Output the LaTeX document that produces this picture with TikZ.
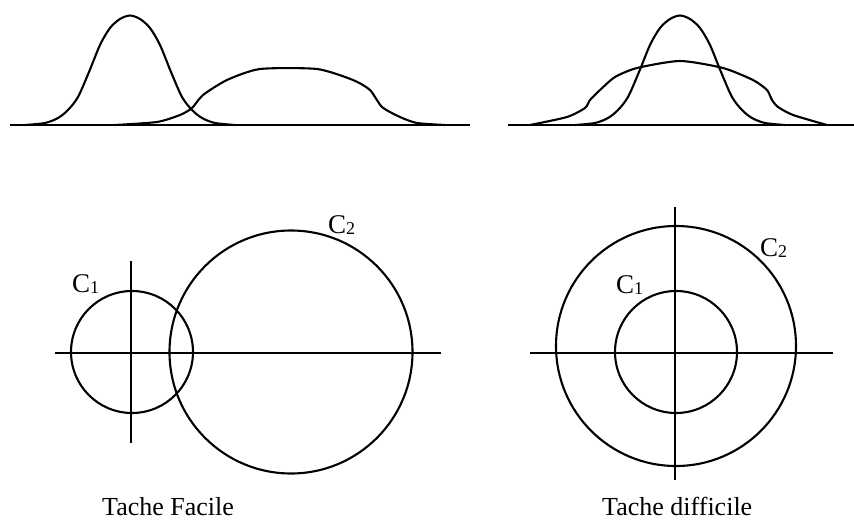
\documentclass[tikz,border=0pt]{standalone}
\usepackage{fontspec}
\setmainfont{Liberation Serif}
\newcommand\sbs[1]{{\fontsize{18}{18}\selectfont\raisebox{-1pt}{#1}}}
\begin{document}
\begin{tikzpicture}[x=1pt,y=-1pt,line join=round,line cap=round,
  curve/.style={line width=2.1pt},
  axisline/.style={line width=2.2pt,line cap=butt},
  base/.style={line width=2.6pt,line cap=butt},
  lbl/.style={anchor=base west,inner sep=0pt,font=\fontsize{27}{27}\selectfont},
  captxt/.style={anchor=base west,inner sep=0pt,font=\fontsize{26}{26}\selectfont}]
\useasboundingbox (0,0) rectangle (854,522);
% ---- top left distributions
\coordinate (bl1) at (10,125);
\coordinate (bl2) at (470,125);
\draw[base] (bl1) -- (bl2);
\draw[curve] plot[smooth,tension=0.5] coordinates {
 (25,125) (45,123) (58,118) (68,110) (78,97) (89,72) (100,45) (110,28) (120,19) (130,15.5)
 (140,19) (150,28) (160,45) (171,72) (182,97) (192,110) (202,118) (215,123) (235,125)};
\draw[curve] plot[smooth,tension=0.4] coordinates {
 (115,125) (157,122) (180,115) (192,108) (203,95) (227,80) (260,69) (317,69)
 (353,80) (370,90) (382,107) (400,117) (417,123) (445,125)};
% ---- top right distributions
\coordinate (br1) at (508,125);
\coordinate (br2) at (854,125);
\draw[base] (br1) -- (br2);
\draw[curve] plot[smooth,tension=0.5] coordinates {
 (575,125) (595,123) (608,118) (618,110) (628,97) (639,72) (650,45) (660,28) (670,19) (680,15.5)
 (690,19) (700,28) (710,45) (721,72) (732,97) (742,110) (752,118) (765,123) (785,125)};
\draw[curve] plot[smooth,tension=0.4] coordinates {
 (530,125) (567,117) (585,108) (590,100) (600,90) (615,77) (637,68) (680,61)
 (723,68) (753,80) (767,90) (772,100) (778,107) (793,115) (827,125)};
% ---- bottom left: easy task
\coordinate (hl1) at (55,353);
\coordinate (hl2) at (441,353);
\coordinate (vl1) at (131,261);
\coordinate (vl2) at (131,443);
\draw[axisline] (hl1) -- (hl2);
\draw[axisline] (vl1) -- (vl2);
\draw[curve] (132,352) circle[radius=61pt];
\draw[curve] (291,352) circle[radius=121.5pt];
\node[lbl] (c1a) at (72,292) {C\sbs{1}};
\node[lbl] (c2a) at (328,233) {C\sbs{2}};
% ---- bottom right: hard task
\coordinate (hr1) at (530,353);
\coordinate (hr2) at (833,353);
\coordinate (vr1) at (675,207);
\coordinate (vr2) at (675,480);
\draw[axisline] (hr1) -- (hr2);
\draw[axisline] (vr1) -- (vr2);
\draw[curve] (676,352) circle[radius=61pt];
\draw[curve] (676,346) circle[radius=120pt];
\node[lbl] (c1b) at (616,293) {C\sbs{1}};
\node[lbl] (c2b) at (760,256.5) {C\sbs{2}};
% ---- captions
\node[captxt] (ta) at (102,515) {Tache Facile};
\node[captxt] (tb) at (602,515) {Tache difficile};
\end{tikzpicture}
\end{document}
